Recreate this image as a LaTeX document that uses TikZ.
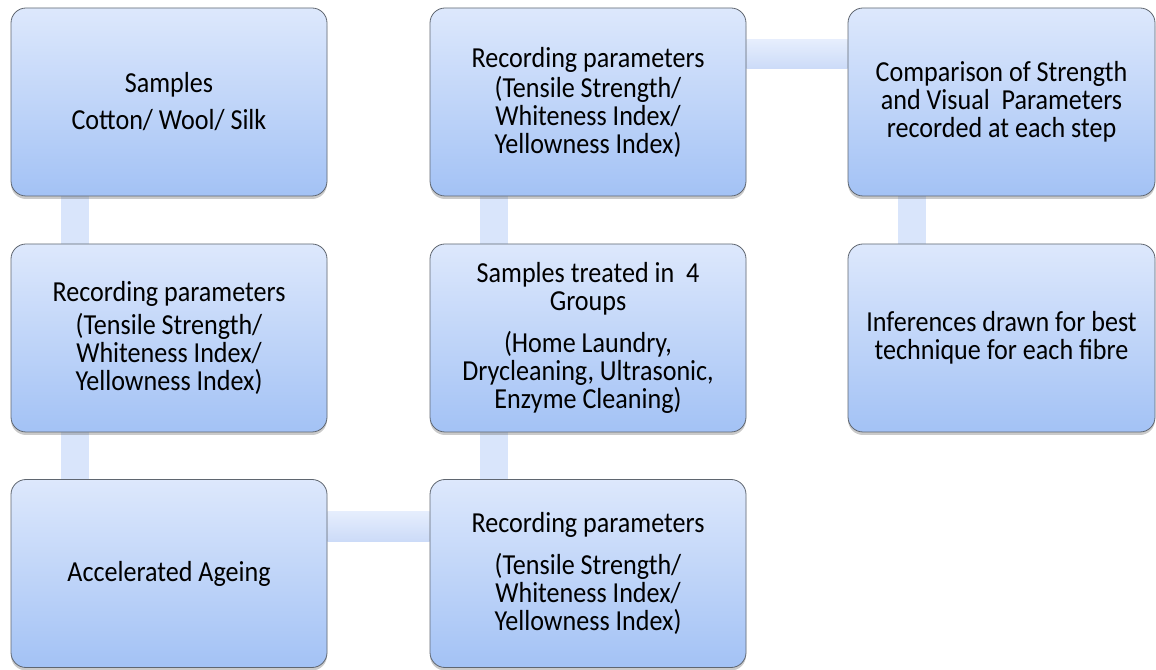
\documentclass[tikz,border=0pt]{standalone}
\usepackage{fontspec}
\setmainfont{Carlito}[FakeStretch=0.9]
\usetikzlibrary{shadows,backgrounds}
\definecolor{boxtop}{HTML}{DDE8FC}
\definecolor{boxbot}{HTML}{A3C2F5}
\definecolor{boxline}{HTML}{5F6670}
\definecolor{conn}{HTML}{D9E5FB}
\definecolor{conntop}{HTML}{E6EEFD}
\definecolor{connbot}{HTML}{CCDBF8}
\tikzset{
  stepbox/.style={draw=boxline, line width=0.8pt, rounded corners=15pt,
    top color=boxtop, bottom color=boxbot,
    minimum width=316pt, minimum height=188pt, inner sep=0pt,
    align=center, font=\fontsize{29}{28}\selectfont,
    drop shadow={shadow xshift=0pt, shadow yshift=-3pt, opacity=0.35, fill=black!60}},
  narrowbox/.style={stepbox, minimum width=307pt},
  vconn/.style={draw=conn, line width=28pt},
  hconn/.style={top color=conntop, bottom color=connbot},
}
\begin{document}
\begin{tikzpicture}[x=1pt,y=1pt]
\useasboundingbox (0,0) rectangle (1156,669);
% column 1
\node[stepbox] (s1) at (169,567) {Samples\\[9pt]Cotton/ Wool/ Silk};
\node[stepbox] (r1) at (169,331) {Recording parameters\\[5pt](Tensile Strength/\\Whiteness Index/\\Yellowness Index)};
\node[stepbox] (aa) at (169,95.5) {Accelerated Ageing};
% column 2
\node[stepbox] (r2) at (588,95.5) {Recording parameters\\[14pt](Tensile Strength/\\Whiteness Index/\\Yellowness Index)};
\node[stepbox] (gr) at (588,331) {Samples treated in\ \ 4\\Groups\\[14pt](Home Laundry,\\Drycleaning, Ultrasonic,\\Enzyme Cleaning)};
\node[stepbox] (r3) at (588,567) {Recording parameters\\[2pt](Tensile Strength/\\Whiteness Index/\\Yellowness Index)};
% column 3
\node[narrowbox] (cp) at (1001.5,567) {Comparison of Strength\\and Visual\ \ Parameters\\recorded at each step};
\node[narrowbox] (inf) at (1001.5,331) {Inferences drawn for best\\technique for each fibre};
% connectors
\begin{pgfonlayer}{background}
\draw[vconn] ([xshift=64pt]s1.south west) -- ([xshift=64pt]r1.north west);
\draw[vconn] ([xshift=64pt]r1.south west) -- ([xshift=64pt]aa.north west);
\path[hconn] ([yshift=-32pt]aa.north east) rectangle ([yshift=-62pt]r2.north west);
\draw[vconn] ([xshift=64pt]r2.north west) -- ([xshift=64pt]gr.south west);
\draw[vconn] ([xshift=64pt]gr.north west) -- ([xshift=64pt]r3.south west);
\path[hconn] ([yshift=-32pt]r3.north east) rectangle ([yshift=-61pt]cp.north west);
\draw[vconn] ([xshift=64pt]cp.south west) -- ([xshift=64pt]inf.north west);
\end{pgfonlayer}
\end{tikzpicture}
\end{document}
